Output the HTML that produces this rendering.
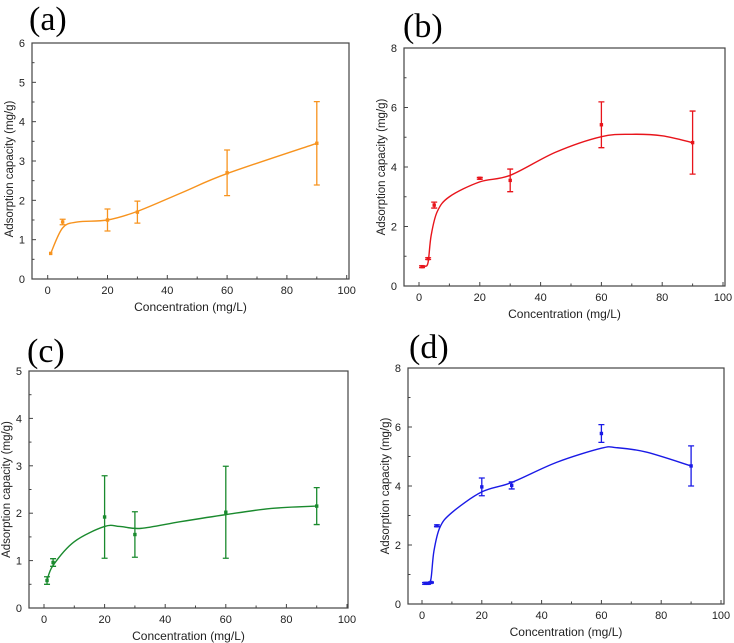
<!DOCTYPE html>
<html><head><meta charset="utf-8"><style>
body{margin:0;background:#fff;}
svg{display:block;font-family:"Liberation Sans",Arial,sans-serif;}
</style></head><body>
<svg id="fig" width="734" height="643" viewBox="0 0 734 643"></svg>
<script>
const NS="http://www.w3.org/2000/svg";
const svg=document.getElementById('fig');
// Panel (a)
const aX=[1,5,20,30,60,90];
const aY=[0.65,1.45,1.5,1.7,2.7,3.45];
const aErr=[0,0.07,0.28,0.28,0.58,1.06];
const aFitX=[1,5,10,20,30,45,60,90];
const aFitY=[0.65,1.3,1.45,1.5,1.72,2.2,2.68,3.45];
// Panel (b)
const bX=[1,3,5,20,30,60,90];
const bY=[0.65,0.92,2.72,3.62,3.55,5.42,4.82];
const bErr=[0.03,0.03,0.1,0.03,0.38,0.77,1.06];
const bFitX=[1,2,3,4,6,10,20,30,45,60,70,80,90];
const bFitY=[0.65,0.66,0.8,1.7,2.5,3.0,3.5,3.72,4.5,5.02,5.1,5.05,4.82];
// Panel (c)
const cX=[1,3,20,30,60,90];
const cY=[0.58,0.96,1.92,1.55,2.02,2.15];
const cErr=[0.08,0.08,0.87,0.48,0.97,0.39];
const cFitX=[1,3,10,20,25,32,45,60,75,90];
const cFitY=[0.58,0.9,1.4,1.72,1.72,1.68,1.82,1.97,2.1,2.15];
// Panel (d)
const dX=[1,2,3,5,20,30,60,90];
const dY=[0.7,0.7,0.73,2.65,3.97,4.02,5.78,4.68];
const dErr=[0.03,0.03,0.02,0.03,0.3,0.12,0.3,0.68];
const dFitX=[1,2,3,4,6,10,20,30,45,60,65,75,90];
const dFitY=[0.7,0.7,0.85,1.8,2.6,3.1,3.8,4.12,4.8,5.28,5.3,5.15,4.68];
const xTicks=[0,20,40,60,80,100];
const aTicks=[0,1,2,3,4,5,6];
const bTicks=[0,2,4,6,8];
const cTicks=[0,1,2,3,4,5];
const dTicks=[0,2,4,6,8];

function mk(tag,attrs,parent){const e=document.createElementNS(NS,tag);for(const k in attrs)e.setAttribute(k,attrs[k]);(parent||svg).appendChild(e);return e;}

function panel(cfg){
  const g=mk('g',{});
  
  
  const sx=v=>cfg.x0+(v-0)/100*(cfg.x100-cfg.x0);
  const sy=v=>cfg.bot-(v/cfg.ymax)*(cfg.bot-cfg.top);
  const fr=mk('rect',{x:cfg.l,y:cfg.top,width:cfg.r-cfg.l,height:cfg.bot-cfg.top,fill:'none',stroke:'#444','stroke-width':1.2},g);
  
  
  for(let v=0;v<=100;v+=10){
    const major=v%20===0;
    mk('line',{x1:sx(v),x2:sx(v),y1:cfg.bot,y2:cfg.bot-(major?4:2.5),stroke:'#444'},g);
  }
  xTicks.forEach(v=>{const t=mk('text',{x:sx(v),y:cfg.bot+15,'text-anchor':'middle','font-size':11,fill:'#222'},g);t.textContent=v;
    
    });
  const step=cfg.ticks[1]-cfg.ticks[0];
  for(let v=0;v<=cfg.ymax+1e-9;v+=step/2){
    const major=Math.abs(v/step-Math.round(v/step))<1e-6;
    mk('line',{x1:cfg.l,x2:cfg.l+(major?4:2.5),y1:sy(v),y2:sy(v),stroke:'#444'},g);
  }
  cfg.ticks.forEach(v=>{const t=mk('text',{x:cfg.l-7,y:sy(v)+4,'text-anchor':'end','font-size':11,fill:'#222'},g);t.textContent=v;
    
    });
  const xt=mk('text',{x:(cfg.l+cfg.r)/2,y:cfg.bot+32,'text-anchor':'middle','font-size':12,fill:'#222'},g);
  xt.textContent='Concentration (mg/L)';
  
  
  const yc=(cfg.top+cfg.bot)/2+(cfg.id==='a'?8:0), yx=cfg.l-19;
  const yt=mk('text',{x:yx,y:yc,'text-anchor':'middle','font-size':11.5,fill:'#222',transform:`rotate(-90 ${yx} ${yc})`},g);
  yt.textContent='Adsorption capacity (mg/g)';
  
  
  const lb=mk('text',{x:cfg.lx,y:cfg.ly,'font-size':34,'font-family':'"Liberation Serif",serif',fill:'#000'},g);
  lb.textContent='('+cfg.id+')';
  
  
  const P=cfg.fx.map((v,i)=>[sx(v),sy(cfg.fy[i])]);
  let d='M'+P[0][0]+' '+P[0][1];
  for(let i=0;i<P.length-1;i++){
    const p0=P[Math.max(0,i-1)],p1=P[i],p2=P[i+1],p3=P[Math.min(P.length-1,i+2)];
    d+=` C${p1[0]+(p2[0]-p0[0])/6} ${p1[1]+(p2[1]-p0[1])/6} ${p2[0]-(p3[0]-p1[0])/6} ${p2[1]-(p3[1]-p1[1])/6} ${p2[0]} ${p2[1]}`;
  }
  const cv=mk('path',{d:d,fill:'none',stroke:cfg.color,'stroke-width':1.4},g);
  
  
  cfg.xs.forEach((v,i)=>{
    const x=sx(v),y=sy(cfg.ys[i]),e=cfg.err[i];
    if(e>0){
      const y1=sy(cfg.ys[i]-e),y2=sy(cfg.ys[i]+e);
      const eb=mk('path',{d:`M${x} ${y1}V${y2}M${x-3} ${y1}H${x+3}M${x-3} ${y2}H${x+3}`,stroke:cfg.color,'stroke-width':1.3,fill:'none'},g);
      
      
    }
    const pt=mk('rect',{x:x-1.7,y:y-1.7,width:3.4,height:3.4,fill:cfg.color},g);
    
    
  });
}
panel({id:'a',l:32,r:349,top:43,bot:279,x0:47.7,x100:346.7,ymax:6,ticks:aTicks,xs:aX,ys:aY,err:aErr,fx:aFitX,fy:aFitY,color:'#f7931e',lx:29,ly:30});
panel({id:'b',l:404,r:725,top:48,bot:286,x0:419,x100:723,ymax:8,ticks:bTicks,xs:bX,ys:bY,err:bErr,fx:bFitX,fy:bFitY,color:'#e8141b',lx:403,ly:37});
panel({id:'c',l:29,r:348,top:371,bot:608,x0:44,x100:347,ymax:5,ticks:cTicks,xs:cX,ys:cY,err:cErr,fx:cFitX,fy:cFitY,color:'#1a8a2e',lx:27,ly:362});
panel({id:'d',l:408,r:724,top:368,bot:604,x0:422,x100:721,ymax:8,ticks:dTicks,xs:dX,ys:dY,err:dErr,fx:dFitX,fy:dFitY,color:'#1a1ae6',lx:409,ly:358});
</script>
</body></html>
